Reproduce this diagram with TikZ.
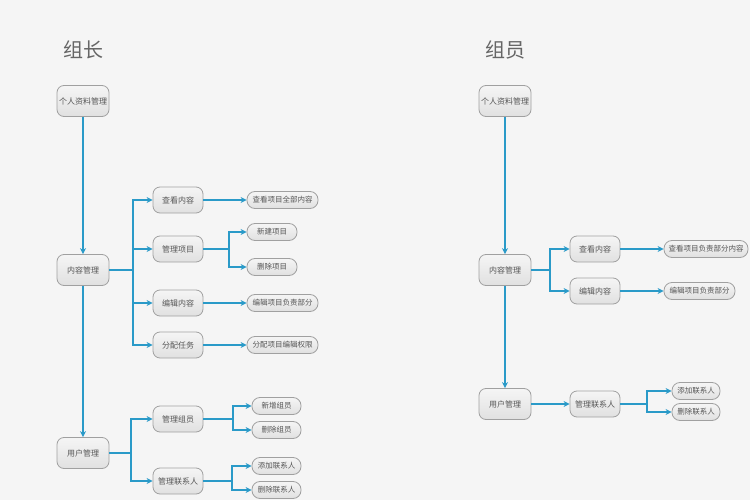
\documentclass[tikz,border=0pt]{standalone}
\usepackage{fontspec}
\setmainfont{Noto Sans CJK SC}
\usetikzlibrary{arrows.meta,calc}
\definecolor{bg}{HTML}{F5F5F5}
\definecolor{edge}{HTML}{2A9AC8}
\definecolor{bord}{HTML}{A0A0A0}
\definecolor{txt}{HTML}{555555}
\tikzset{
  box/.style={draw=bord, line width=0.8pt, rounded corners=7pt, top color=white!96!black, bottom color=black!12, text=txt, font=\fontsize{8}{9}\selectfont, inner sep=1pt},
  mainbox/.style={box, minimum width=52pt, minimum height=31pt},
  midbox/.style={box, minimum width=50pt, minimum height=26pt},
  leafbox/.style={box, rounded corners=8pt, minimum height=17pt, font=\fontsize{7.5}{8}\selectfont},
  link/.style={draw=edge, line width=1.3pt},
  arr/.style={link, -{Stealth[length=6pt,width=6pt]}},
  ttl/.style={text=black!60, font=\fontsize{20}{22}\selectfont}
}
\begin{document}
\begin{tikzpicture}[x=1pt,y=-1pt]
\fill[bg] (0,0) rectangle (750,500);
\useasboundingbox (0,0) rectangle (750,500);
% ---------- left ----------
\node[ttl] (t1) at (83,50) {组长};
\node[mainbox] (a1) at (83,101) {个人资料管理};
\node[mainbox] (a2) at (83,270) {内容管理};
\node[mainbox] (a3) at (83,453) {用户管理};
\node[midbox] (m1) at (178,200) {查看内容};
\node[midbox] (m2) at (178,249) {管理项目};
\node[midbox] (m3) at (178,303) {编辑内容};
\node[midbox] (m4) at (178,345) {分配任务};
\node[midbox] (m5) at (178,419) {管理组员};
\node[midbox] (m6) at (178,481) {管理联系人};
\node[leafbox, minimum width=71pt] (l1) at (282.5,200) {查看项目全部内容};
\node[leafbox, minimum width=50pt] (l2) at (272,232) {新建项目};
\node[leafbox, minimum width=50pt] (l3) at (272,267) {删除项目};
\node[leafbox, minimum width=71pt] (l4) at (282.5,303) {编辑项目负责部分};
\node[leafbox, minimum width=71pt] (l5) at (282.5,345) {分配项目编辑权限};
\node[leafbox, minimum width=49pt] (l6) at (276.5,406) {新增组员};
\node[leafbox, minimum width=49pt] (l7) at (276.5,430) {删除组员};
\node[leafbox, minimum width=49pt] (l8) at (276.5,466) {添加联系人};
\node[leafbox, minimum width=49pt] (l9) at (276.5,490) {删除联系人};
\draw[arr] (a1) -- (a2);
\draw[arr] (a2) -- (a3);
\coordinate (bA) at (133,270);
\draw[arr] (a2.east) -- (bA) |- (m1.west);
\draw[arr] (a2.east) -- (bA) |- (m2.west);
\draw[arr] (a2.east) -- (bA) |- (m3.west);
\draw[arr] (a2.east) -- (bA) |- (m4.west);
\draw[arr] (m1) -- (l1);
\coordinate (bB) at (229,249);
\draw[arr] (m2.east) -- (bB) |- (l2.west);
\draw[arr] (m2.east) -- (bB) |- (l3.west);
\draw[arr] (m3) -- (l4);
\draw[arr] (m4) -- (l5);
\coordinate (bC) at (131,453);
\draw[arr] (a3.east) -- (bC) |- (m5.west);
\draw[arr] (a3.east) -- (bC) |- (m6.west);
\coordinate (bD) at (233,419);
\draw[arr] (m5.east) -- (bD) |- (l6.west);
\draw[arr] (m5.east) -- (bD) |- (l7.west);
\coordinate (bE) at (232,481);
\draw[arr] (m6.east) -- (bE) |- (l8.west);
\draw[arr] (m6.east) -- (bE) |- (l9.west);
% ---------- right ----------
\node[ttl] (t2) at (505,50) {组员};
\node[mainbox] (b1) at (505,101) {个人资料管理};
\node[mainbox] (b2) at (505,270) {内容管理};
\node[mainbox] (b3) at (505,404) {用户管理};
\node[midbox] (n1) at (595,249) {查看内容};
\node[midbox] (n2) at (595,291) {编辑内容};
\node[midbox] (n3) at (595,404) {管理联系人};
\node[leafbox, minimum width=84pt] (k1) at (706,249) {查看项目负责部分内容};
\node[leafbox, minimum width=71pt] (k2) at (699.5,291) {编辑项目负责部分};
\node[leafbox, minimum width=48pt] (k3) at (696,391) {添加联系人};
\node[leafbox, minimum width=48pt] (k4) at (696,412) {删除联系人};
\draw[arr] (b1) -- (b2);
\draw[arr] (b2) -- (b3);
\coordinate (bF) at (550,270);
\draw[arr] (b2.east) -- (bF) |- (n1.west);
\draw[arr] (b2.east) -- (bF) |- (n2.west);
\draw[arr] (n1) -- (k1);
\draw[arr] (n2) -- (k2);
\draw[arr] (b3) -- (n3);
\coordinate (bG) at (647,404);
\draw[arr] (n3.east) -- (bG) |- (k3.west);
\draw[arr] (n3.east) -- (bG) |- (k4.west);
\end{tikzpicture}
\end{document}
